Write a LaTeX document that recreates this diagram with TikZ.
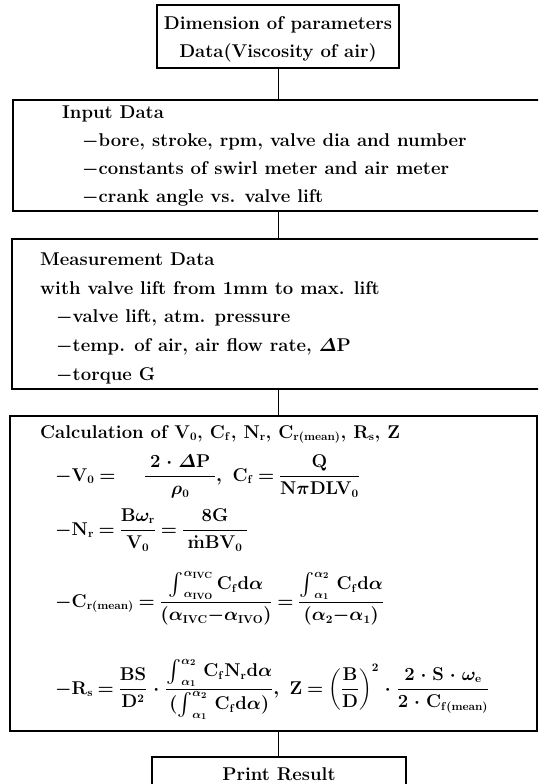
\RequirePackage{fix-cm}
\documentclass[tikz,border=0pt]{standalone}
\usepackage{amsmath}
\usepackage{graphicx}
\usepackage[no-math]{fontspec}
\setmainfont{Latin Modern Roman}
\DeclareMathSizes{18.5}{18.5}{11.5}{9}
\newcommand\bigint{\mathop{\vcenter{\hbox{\scalebox{1.3}{$\int$}}}}\nolimits}
\newcommand\widemath{\medmuskip=5mu\relax\thickmuskip=4mu\relax}
\begin{document}
\begin{tikzpicture}[x=1pt,y=-1pt,
  box/.style={draw,line width=1.1pt,inner sep=0pt},
  txt/.style={anchor=base west,inner sep=0pt,font=\fontsize{18.5}{22}\selectfont\bfseries\boldmath\widemath},
  ctxt/.style={txt,anchor=base},
  link/.style={line width=1pt}]
\useasboundingbox (0,0) rectangle (538,784);
\clip (0,0) rectangle (538,784);
\coordinate (sp) at (278,0);
% boxes
\node[box,minimum width=242pt,minimum height=63pt] (top) at (278,36.5) {};
\node[box,minimum width=535pt,minimum height=111pt] (input) at (280.5,155.5) {};
\node[box,minimum width=536pt,minimum height=150pt] (meas) at (280,314) {};
\node[box,minimum width=527pt,minimum height=315pt] (calc) at (273.5,573.5) {};
\node[box,minimum width=254pt,minimum height=43pt] (print) at (279,778.5) {};
% connectors
\draw[link] (top.south) -- (input.north -| sp);
\draw[link] (input.south -| sp) -- (meas.north -| sp);
\draw[link] (meas.south -| sp) -- (calc.north -| sp);
\draw[link] (calc.south -| sp) -- (print.north -| sp);
% top texts
\node[ctxt] (t1) at (278,30) {Dimension of parameters};
\node[ctxt] (t2) at (278,57) {Data(Viscosity of air)};
% input
\node[txt] (i0) at (62,118) {Input Data};
\node[txt] (i1) at (82,146) {$-$bore, stroke, rpm, valve dia and number};
\node[txt] (i2) at (82,174) {$-$constants of swirl meter and air meter};
\node[txt] (i3) at (82,202) {$-$crank angle vs. valve lift};
% measurement
\node[txt] (m0) at (40,265) {Measurement Data};
\node[txt] (m1) at (40,294) {with valve lift from 1mm to max. lift};
\node[txt] (m2) at (56,322) {$-$valve lift, atm. pressure};
\node[txt] (m3) at (56,351) {$-$temp. of air, air flow rate, $\varDelta\mathbf{P}$};
\node[txt] (m4) at (56,380) {$-$torque G};
% calculation
\node[txt] (c0) at (40,438) {Calculation of $\mathbf{V_0}$, $\mathbf{C_f}$, $\mathbf{N_r}$, $\mathbf{C_{r(mean)}}$, $\mathbf{R_s}$, $\mathbf{Z}$};
\node[txt] (c1) at (55,481) {$-\mathbf{V_0}=\hspace{24pt}\dfrac{\;2\cdot\varDelta\mathbf{P}\;}{\rho_0},\ \mathbf{C_f}=\dfrac{\mathbf{Q}}{\mathbf{N}\pi\mathbf{DLV_0}}$};
\node[txt] (c2) at (55,535) {$-\mathbf{N_r}=\dfrac{\mathbf{B}\omega_{\mathbf{r}}}{\mathbf{V_0}}=\dfrac{8\mathbf{G}}{\;\dot{\mathbf{m}}\mathbf{BV_0}\;}$};
\node[txt] (c3) at (55,607) {$-\mathbf{C_{r(mean)}}=\dfrac{\bigint_{\alpha_{\mathbf{IVO}}}^{\alpha_{\mathbf{IVC}}}\mathbf{C_f}\mathbf{d}\alpha}{(\alpha_{\mathbf{IVC}}{-}\alpha_{\mathbf{IVO}})}=\dfrac{\bigint_{\alpha_1}^{\alpha_2}\,\mathbf{C_f}\mathbf{d}\alpha}{(\alpha_2{-}\alpha_1)}$};
\node[txt] (c4) at (55,694) {$-\mathbf{R_s}=\dfrac{\mathbf{BS}}{\mathbf{D^2}}\cdot\dfrac{\bigint_{\alpha_1}^{\alpha_2}\,\mathbf{C_fN_r}\mathbf{d}\alpha}{(\bigint_{\alpha_1}^{\alpha_2}\,\mathbf{C_f}\mathbf{d}\alpha)},\ \mathbf{Z}=\left(\dfrac{\mathbf{B}}{\mathbf{D}}\right)^{2}\cdot\dfrac{2\cdot\mathbf{S}\cdot\omega_{\mathbf{e}}}{2\cdot\mathbf{C_{f(mean)}}}$};
% print
\node[ctxt] (p0) at (279,780) {Print Result};
\end{tikzpicture}
\end{document}
